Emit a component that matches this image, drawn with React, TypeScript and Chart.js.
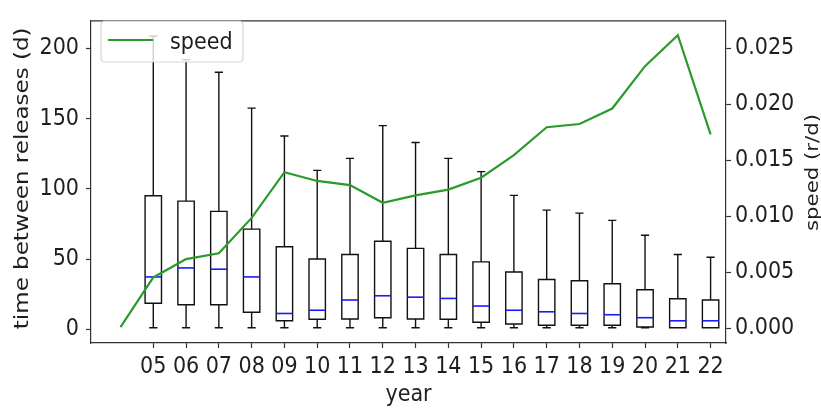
import React, { useEffect, useRef } from 'react';
import { Chart, registerables } from 'chart.js';

Chart.register(...registerables);

// ---- data ----
const yearLabels = ['05', '06', '07', '08', '09', '10', '11', '12', '13', '14', '15', '16', '17', '18', '19', '20', '21', '22'];
const boxPositions = [1, 2, 3, 4, 5, 6, 7, 8, 9, 10, 11, 12, 13, 14, 15, 16, 17, 18];
const q1Values = [18.7, 17.6, 17.6, 12.3, 6.2, 7.3, 7.5, 8.4, 7.5, 7.3, 5.2, 3.9, 3.0, 3.0, 3.0, 1.8, 1.3, 1.3];
const q3Values = [95.2, 91.3, 84.0, 71.4, 58.9, 50.2, 53.4, 62.8, 57.7, 53.4, 48.1, 40.9, 35.6, 34.7, 32.6, 28.3, 21.9, 21.0];
const medianValues = [37.4, 43.8, 42.9, 37.4, 11.4, 13.7, 21.0, 24.0, 23.0, 22.1, 16.7, 13.7, 12.6, 11.4, 10.5, 8.4, 6.2, 6.2];
const whiskerLowValues = [1.3, 1.3, 1.3, 1.3, 1.3, 1.3, 1.3, 1.3, 1.3, 1.3, 1.3, 1.3, 1.3, 1.3, 1.3, 1.3, 1.3, 1.3];
const whiskerHighValues = [208.8, 192.0, 183.0, 157.5, 137.6, 113.2, 121.7, 145.0, 133.0, 121.7, 112.3, 95.4, 84.9, 82.8, 77.6, 67.1, 53.4, 51.4];

const speedPositions = [0, 1, 2, 3, 4, 5, 6, 7, 8, 9, 10, 11, 12, 13, 14, 15, 16, 17, 18];
const speedValues = [0.0001, 0.00454, 0.00618, 0.0067, 0.00986, 0.01394, 0.01316, 0.01279, 0.01121, 0.01187, 0.01239, 0.01345, 0.01546, 0.01796, 0.01825, 0.01963, 0.02342, 0.02618, 0.01733];

const leftTicks = [0, 50, 100, 150, 200];
const rightTicks = [0, 0.005, 0.01, 0.015, 0.02, 0.025];

const FONT = "'DejaVu Sans Condensed', 'DejaVu Sans', sans-serif";
const TEXT = '#1e1e1e';
const SPINE = '#333333';
const GREEN = '#2a9a2a';

const boxPlugin = {
  id: 'boxes',
  beforeDatasetsDraw(chart: any) {
    const { ctx, chartArea } = chart;
    const xs = chart.scales.x;
    const ys = chart.scales.y;
    ctx.save();
    // top spine
    ctx.strokeStyle = SPINE;
    ctx.lineWidth = 1.2;
    ctx.beginPath();
    ctx.moveTo(chartArea.left, chartArea.top);
    ctx.lineTo(chartArea.right, chartArea.top);
    ctx.stroke();

    const halfBox = 0.25;
    const halfCap = 0.125;
    for (let i = 0; i < boxPositions.length; i++) {
      const p = boxPositions[i];
      const xl = xs.getPixelForValue(p - halfBox);
      const xr = xs.getPixelForValue(p + halfBox);
      const xc = xs.getPixelForValue(p);
      const cl = xs.getPixelForValue(p - halfCap);
      const cr = xs.getPixelForValue(p + halfCap);
      const yq1 = ys.getPixelForValue(q1Values[i]);
      const yq3 = ys.getPixelForValue(q3Values[i]);
      const ym = ys.getPixelForValue(medianValues[i]);
      const ylo = ys.getPixelForValue(whiskerLowValues[i]);
      const yhi = ys.getPixelForValue(whiskerHighValues[i]);
      ctx.strokeStyle = '#111111';
      ctx.lineWidth = 1.4;
      ctx.beginPath();
      ctx.rect(xl, yq3, xr - xl, yq1 - yq3);
      ctx.moveTo(xc, yq1);
      ctx.lineTo(xc, ylo);
      ctx.moveTo(cl, ylo);
      ctx.lineTo(cr, ylo);
      ctx.moveTo(xc, yq3);
      ctx.lineTo(xc, yhi);
      ctx.moveTo(cl, yhi);
      ctx.lineTo(cr, yhi);
      ctx.stroke();
      ctx.strokeStyle = '#1a1aff';
      ctx.lineWidth = 1.6;
      ctx.beginPath();
      ctx.moveTo(xl, ym);
      ctx.lineTo(xr, ym);
      ctx.stroke();
    }
    ctx.restore();
  },
  afterDraw(chart: any) {
    const { ctx, chartArea } = chart;
    ctx.save();
    // legend
    const lx = 101, ly = 21, lw = 142, lh = 41, r = 4;
    ctx.beginPath();
    ctx.moveTo(lx + r, ly);
    ctx.lineTo(lx + lw - r, ly);
    ctx.quadraticCurveTo(lx + lw, ly, lx + lw, ly + r);
    ctx.lineTo(lx + lw, ly + lh - r);
    ctx.quadraticCurveTo(lx + lw, ly + lh, lx + lw - r, ly + lh);
    ctx.lineTo(lx + r, ly + lh);
    ctx.quadraticCurveTo(lx, ly + lh, lx, ly + lh - r);
    ctx.lineTo(lx, ly + r);
    ctx.quadraticCurveTo(lx, ly, lx + r, ly);
    ctx.closePath();
    ctx.fillStyle = 'rgba(255,255,255,0.8)';
    ctx.fill();
    ctx.strokeStyle = 'rgba(204,204,204,0.8)';
    ctx.lineWidth = 1.2;
    ctx.stroke();
    ctx.strokeStyle = GREEN;
    ctx.lineWidth = 2.2;
    ctx.beginPath();
    ctx.moveTo(108, 40);
    ctx.lineTo(153, 40);
    ctx.stroke();
    ctx.fillStyle = TEXT;
    ctx.font = `23px ${FONT}`;
    ctx.textAlign = 'left';
    ctx.textBaseline = 'alphabetic';
    ctx.fillText('speed', 170, 49);

    // x title
    ctx.textAlign = 'center';
    ctx.fillText('year', (chartArea.left + chartArea.right) / 2, 401);

    // left title
    ctx.save();
    ctx.translate(28, 178.3);
    ctx.scale(0.86, 1);
    ctx.rotate(-Math.PI / 2);
    ctx.font = "23px 'DejaVu Sans', sans-serif";
    ctx.fillText('time between releases (d)', 0, 0);
    ctx.restore();

    // right title
    ctx.save();
    ctx.translate(818, 172.5);
    ctx.scale(0.86, 1);
    ctx.rotate(-Math.PI / 2);
    ctx.font = "21.3px 'DejaVu Sans', sans-serif";
    ctx.fillText('speed (r/d)', 0, 0);
    ctx.restore();
    ctx.restore();
  },
};

export default function App() {
  const canvasRef = useRef<HTMLCanvasElement | null>(null);
  useEffect(() => {
    document.body.style.margin = '0';
    const canvas = canvasRef.current;
    if (!canvas) return;
    Chart.defaults.font.family = FONT;
    Chart.defaults.font.size = 23;
    Chart.defaults.color = TEXT;
    const chart = new Chart(canvas, {
      type: 'line',
      data: {
        datasets: [
          {
            label: 'speed',
            data: speedPositions.map((x, i) => ({ x, y: speedValues[i] })),
            yAxisID: 'y2',
            xAxisID: 'x',
            borderColor: GREEN,
            backgroundColor: GREEN,
            borderWidth: 2.2,
            pointRadius: 0,
            tension: 0,
            fill: false,
          },
        ],
      },
      options: {
        animation: false,
        responsive: false,
        events: [],
        layout: { padding: { top: 9, left: 0, right: 0, bottom: 0 } },
        plugins: { legend: { display: false }, tooltip: { enabled: false } },
        scales: {
          x: {
            type: 'linear',
            position: 'bottom',
            min: -0.9,
            max: 18.47,
            afterFit: (s: any) => { s.height = 65; },
            afterBuildTicks: (s: any) => { s.ticks = boxPositions.map((v) => ({ value: v })); },
            ticks: {
              autoSkip: false,
              maxRotation: 0,
              padding: 5,
              color: TEXT,
              font: { size: 23, family: FONT },
              callback: (v: any) => yearLabels[boxPositions.indexOf(Number(v))] ?? '',
            },
            grid: { drawOnChartArea: false, drawTicks: true, tickLength: 5, tickColor: SPINE, tickWidth: 1.2 },
            border: { display: true, color: SPINE, width: 1.2 },
          },
          y: {
            type: 'linear',
            position: 'left',
            min: -9.6,
            max: 219.6,
            afterFit: (s: any) => { s.width = 91; },
            afterBuildTicks: (s: any) => { s.ticks = leftTicks.map((v) => ({ value: v })); },
            ticks: {
              padding: 7,
              color: TEXT,
              font: { size: 23, family: FONT },
              callback: (v: any) => String(v),
            },
            grid: { drawOnChartArea: false, drawTicks: true, tickLength: 5, tickColor: SPINE, tickWidth: 1.2 },
            border: { display: true, color: SPINE, width: 1.2 },
          },
          y2: {
            type: 'linear',
            position: 'right',
            min: -0.00132,
            max: 0.02747,
            afterFit: (s: any) => { s.width = 95; },
            afterBuildTicks: (s: any) => { s.ticks = rightTicks.map((v) => ({ value: v })); },
            ticks: {
              padding: 4,
              color: TEXT,
              font: { size: 23, family: FONT },
              callback: (v: any) => Number(v).toFixed(3),
            },
            grid: { drawOnChartArea: false, drawTicks: true, tickLength: 5, tickColor: SPINE, tickWidth: 1.2 },
            border: { display: true, color: SPINE, width: 1.2 },
          },
        },
      },
      plugins: [boxPlugin],
    } as any);
    return () => chart.destroy();
  }, []);
  return (
    <div style={{ position: 'absolute', left: 0, top: 0, width: 821, height: 408 }}>
      <canvas ref={canvasRef} width={821} height={408} style={{ width: 821, height: 408, display: 'block' }} />
    </div>
  );
}
